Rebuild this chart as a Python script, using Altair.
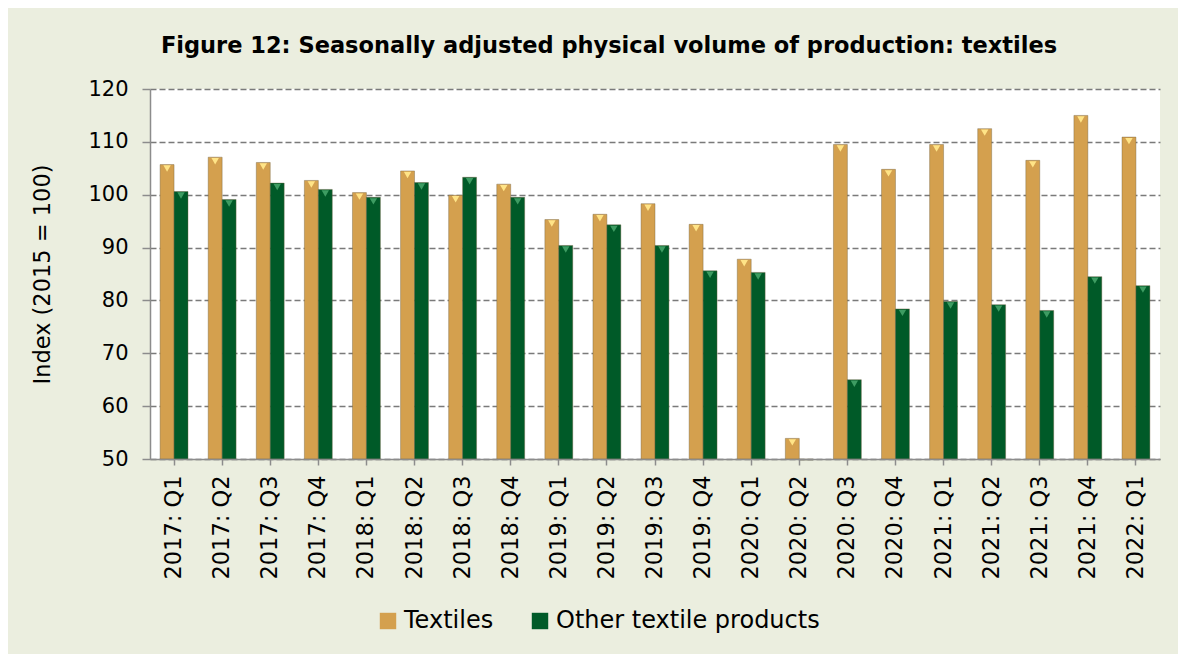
import altair as alt
import pandas as pd

quarters = ["2017: Q1", "2017: Q2", "2017: Q3", "2017: Q4",
            "2018: Q1", "2018: Q2", "2018: Q3", "2018: Q4",
            "2019: Q1", "2019: Q2", "2019: Q3", "2019: Q4",
            "2020: Q1", "2020: Q2", "2020: Q3", "2020: Q4",
            "2021: Q1", "2021: Q2", "2021: Q3", "2021: Q4",
            "2022: Q1"]
textiles = [105.7, 107.1, 106.1, 102.7, 100.4, 104.5, 99.9, 102.0,
            95.3, 96.3, 98.3, 94.4, 87.8, 53.9, 109.5, 104.8,
            109.5, 112.5, 106.5, 115.0, 110.9]
other = [100.6, 99.1, 102.2, 101.0, 99.5, 102.3, 103.3, 99.5,
         90.4, 94.3, 90.4, 85.6, 85.3, 49.8, 65.0, 78.4,
         79.8, 79.2, 78.1, 84.5, 82.8]
series = ["Textiles", "Other textile products"]
colors = ["#D4A04E", "#005A28"]
highlights = ["#FFE487", "#3D9C62"]

rows = []
for q, t, o in zip(quarters, textiles, other):
    rows.append({"quarter": q, "series": series[0], "value": t})
    rows.append({"quarter": q, "series": series[1], "value": o})
df = pd.DataFrame(rows)

FONT = "DejaVu Sans"

x_enc = alt.X("quarter:N", sort=quarters, title=None,
              scale=alt.Scale(paddingInner=0.42, paddingOuter=0.21),
              axis=alt.Axis(labelAngle=-90, labelFontSize=22.5, labelFont=FONT,
                            labelColor="#000000", labelPadding=10,
                            domainColor="#8c8c8c", domainWidth=1.5,
                            tickColor="#8c8c8c", tickWidth=1.5, tickSize=6,
                            labelAlign="right", labelBaseline="middle",
                            zindex=1))
xo_enc = alt.XOffset("series:N", sort=series)
y_enc = alt.Y("value:Q", title="Index (2015 = 100)",
              scale=alt.Scale(domain=[50, 120], nice=False, zero=False),
              axis=alt.Axis(values=[50, 60, 70, 80, 90, 100, 110, 120],
                            labelFontSize=21, labelFont=FONT, labelColor="#000000",
                            titleFontSize=22.5, titleFont=FONT, titleFontWeight="normal",
                            titleColor="#000000", titlePadding=33,
                            labelPadding=14, tickSize=8, tickColor="#8c8c8c",
                            tickWidth=1.5, domainColor="#8c8c8c", domainWidth=1.5,
                            grid=True, gridColor="#7a7a7a", gridDash=[6, 3],
                            gridWidth=1.5))

bars = alt.Chart(df).mark_bar(stroke="#6f6040", strokeWidth=0.4, clip=False).encode(
    x=x_enc,
    xOffset=xo_enc,
    y=y_enc,
    y2=alt.datum(50),
    color=alt.Color("series:N", sort=series,
                    scale=alt.Scale(domain=series, range=colors),
                    legend=alt.Legend(title=None, orient="none", direction="horizontal",
                                      legendX=226, legendY=520,
                                      symbolType="square", symbolSize=270,
                                      symbolStrokeWidth=0, labelLimit=0,
                                      labelFontSize=24, labelFont=FONT,
                                      labelColor="#000000", columnPadding=34,
                                      labelOffset=4)),
)

tops = []
for s, h in zip(series, highlights):
    tops.append(
        alt.Chart(df).transform_filter(
            (alt.datum.series == s) & (alt.datum.value > 51)
        ).mark_point(shape="triangle-down", filled=True, size=55, opacity=1,
                     yOffset=4, color=h, strokeWidth=0).encode(
            x=x_enc, xOffset=xo_enc, y=y_enc)
    )

chart = alt.layer(bars, *tops).properties(
    width=1010, height=370,
    autosize=alt.AutoSizeParams(type="none"),
    padding={"left": 142, "top": 81, "right": 18, "bottom": 195},
    background="#EBEEDF",
    title=alt.TitleParams(
        "Figure 12: Seasonally adjusted physical volume of production: textiles",
        font=FONT, fontSize=22.5, fontWeight="bold", color="#000000",
        anchor="middle", dx=-46, offset=21),
).configure_view(fill="#FFFFFF", stroke=None)

chart.save("out.html", embed_options={"renderer": "svg", "actions": False})
